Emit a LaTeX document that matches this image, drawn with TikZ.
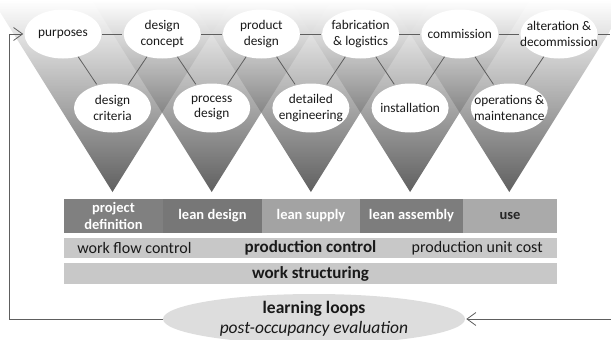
\documentclass[tikz,border=0pt]{standalone}
\usepackage{fontspec}
\setmainfont{Carlito}
\usetikzlibrary{shapes.geometric,positioning,arrows.meta}

\definecolor{linegray}{HTML}{5E5E5E}
\definecolor{bar1}{HTML}{808080}
\definecolor{bar2}{HTML}{777777}
\definecolor{bar3}{HTML}{A3A3A3}
\definecolor{bar4}{HTML}{7D7D7D}
\definecolor{bar5}{HTML}{AAAAAA}
\definecolor{rowgray}{HTML}{C8C8C8}
\definecolor{learngray}{HTML}{DDDDDD}

\begin{document}
\begin{tikzpicture}[x=1pt,y=-1pt,shorten >=1pt,node distance=99.2pt,
                    semithick,every edge/.style={draw=linegray,thick}]
  \tikzstyle{phase}=[ellipse,fill=white,text=black!90,minimum width=77pt,
                     minimum height=49pt,inner xsep=-12pt,inner ysep=-4pt,
                     align=center,font=\fontsize{13.3}{15.5}\selectfont]
  \tikzstyle{cone}=[top color=white,bottom color=black!89,opacity=0.7]
  \tikzstyle{bar}=[rectangle,minimum height=34pt,inner sep=0pt,outer sep=0pt,
                   text=white,align=center,font=\fontsize{14.5}{17}\selectfont\bfseries]
  \tikzstyle{row}=[rectangle,fill=rowgray,minimum width=493pt,inner sep=0pt,
                   outer sep=0pt,text=black!90,font=\fontsize{17}{20}\selectfont]
  \tikzstyle{rowtext}=[inner sep=0pt,text=black!90,font=\fontsize{16}{20}\selectfont]
  \tikzstyle{feedback}=[draw=linegray,thick,-{Straight Barb[length=9pt,width=13pt]}]

  \useasboundingbox (0,0) rectangle (611,340);

	% the five cones
	\foreach \x in {112.5,211.7,310.9,410.1,509.3}
		\shade[cone] (\x-120,0) -- (\x+120,0) -- (\x,192) -- cycle;

	\node[phase]	(0) at (63,34)		{purposes};
	\node[phase]	(1) [right of=0]	{design\\concept};
	\node[phase]	(2) [right of=1]	{product\\design};
	\node[phase]	(3) [right of=2]	{fabrication\\\& logistics};
	\node[phase]	(4) [right of=3]	{commission};
	\node[phase]	(5) [right of=4]	{alteration \&\\decommission};
	\node[phase]	(6) at (112.5,108)	{design\\criteria};
	\node[phase]	(7) [right of=6]	{process\\design};
	\node[phase]	(8) [right of=7]	{detailed\\engineering};
	\node[phase]	(9) [right of=8]	{installation};
	\node[phase]	(10) [right of=9]	{operations \&\\maintenance};

	% bars
	\node[bar,fill=bar1,minimum width=99pt]	(pd) at (113.5,216)	{project\\definition};
	\node[bar,fill=bar2,minimum width=99pt]	(ld) [right=0pt of pd]	{lean design};
	\node[bar,fill=bar3,minimum width=98pt]	(ls) [right=0pt of ld]	{lean supply};
	\node[bar,fill=bar4,minimum width=103pt]	(la) [right=0pt of ls]	{lean assembly};
	\node[bar,fill=bar5,minimum width=94pt,text=black!85]	(use) [right=0pt of la]	{use};

	\node[row,minimum height=20pt]	(r2) at (310.5,248)	{};
	\node[rowtext,anchor=west]	(wfc) at (77,248)	{work flow control};
	\node[rowtext,font=\fontsize{17}{20}\selectfont\bfseries]	(pc) at (r2)	{production control};
	\node[rowtext,anchor=east]	(puc) at (543,248)	{production unit cost};
	\node[row,minimum height=21pt,font=\fontsize{17}{20}\selectfont\bfseries]	(r3) at (310.5,273.5)	{work structuring};

	\node[ellipse,fill=learngray,text=black!90,minimum width=302pt,minimum height=50pt,
	      inner xsep=-10pt,inner ysep=-9pt,align=center,font=\fontsize{17.5}{20.5}\selectfont]
		(11) at (314,319) {\textbf{learning loops}\\\textit{post-occupancy evaluation}};

	\coordinate (c0) at (9,34);
	\coordinate (c1) at (611,319);
	\coordinate (c2) at (611,34);

	\path
		(0) edge (1)
		    edge (6)
		(1) edge (2)
		    edge (6)
		    edge (7)
		(2) edge (3)
		    edge (7)
		    edge (8)
		(3) edge (4)
		    edge (8)
		    edge (9)
		(4) edge (5)
		    edge (9)
		    edge (10)
		(5) edge (10)
		    edge (c2);

	\draw[feedback] (11.west) -| (c0) -- (0.west);
	\draw[feedback] (c1) -- (11.east);

\end{tikzpicture}
\end{document}
